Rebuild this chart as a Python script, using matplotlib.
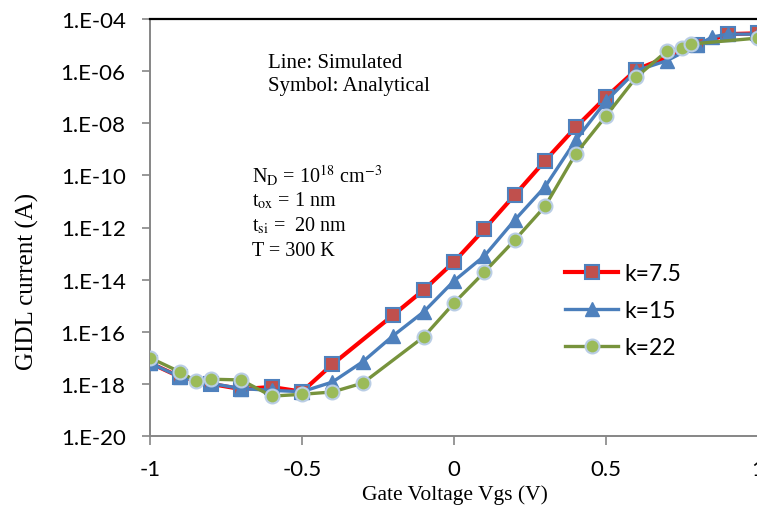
import numpy as np
import matplotlib
matplotlib.use("Agg")
import matplotlib.pyplot as plt
from matplotlib.ticker import FixedLocator, FuncFormatter, NullLocator

# ---- data (log10 of GIDL current) ----
x_k75 = [-1, -0.9, -0.8, -0.7, -0.6, -0.5, -0.4, -0.2, -0.1, 0, 0.1, 0.2, 0.3, 0.4, 0.5, 0.6, 0.8, 0.9, 1.0]
y_k75 = [-17.2, -17.74, -18.0, -18.2, -18.12, -18.3, -17.25, -15.36, -14.40, -13.32, -12.06, -10.75,
         -9.43, -8.16, -7.0, -5.94, -5.0, -4.58, -4.55]

x_k15 = [-1, -0.9, -0.8, -0.7, -0.6, -0.5, -0.4, -0.3, -0.2, -0.1, 0, 0.1, 0.2, 0.3, 0.4, 0.5, 0.6, 0.7,
         0.8, 0.85, 0.9, 1.0]
y_k15 = [-17.2, -17.74, -17.98, -18.18, -18.25, -18.3, -17.93, -17.15, -16.15, -15.24, -14.05, -13.09,
         -11.71, -10.43, -8.66, -7.15, -5.98, -5.6, -5.0, -4.69, -4.58, -4.58]

x_k22 = [-1, -0.9, -0.85, -0.8, -0.7, -0.6, -0.5, -0.4, -0.3, -0.1, 0, 0.1, 0.2, 0.3, 0.4, 0.5, 0.6,
         0.7, 0.75, 0.78, 1.0]
y_k22 = [-17.0, -17.55, -17.89, -17.82, -17.85, -18.47, -18.4, -18.31, -17.97, -16.20, -14.90, -13.71,
         -12.48, -11.18, -9.18, -7.72, -6.23, -5.23, -5.11, -4.96, -4.73]

labels = ["k=7.5", "k=15", "k=22"]
yticks_exp = [-4, -6, -8, -10, -12, -14, -16, -18, -20]
xticks = [-1, -0.5, 0, 0.5, 1]

plt.rcParams["mathtext.fontset"] = "stix"

W, H = 757, 510
fig = plt.figure(figsize=(W / 100, H / 100), dpi=100)
ax = fig.add_axes([150 / W, (H - 437) / H, (758 - 150) / W, (437 - 20) / H])

tick_font = "Lato"
serif = "Liberation Serif"

ax.plot(x_k75, 10.0 ** np.array(y_k75), color="#FF0000", lw=3.0, marker="s", ms=9.5,
        mfc="#C0504D", mec="#4F81BD", mew=1.5, label=labels[0], zorder=3)
ax.plot(x_k15, 10.0 ** np.array(y_k15), color="#4A7EBB", lw=2.4, marker="^", ms=10,
        mfc="#4F81BD", mec="#4F81BD", mew=1.0, label=labels[1], zorder=4)
ax.plot(x_k22, 10.0 ** np.array(y_k22), color="#77933C", lw=2.4, marker="o", ms=10,
        mfc="#9BBB59", mec="#B9CDE5", mew=1.5, label=labels[2], zorder=5)

ax.set_yscale("log")
ax.set_xlim(-1, 1)
ax.set_ylim(1e-20, 1e-4)
ax.yaxis.set_major_locator(FixedLocator([10.0 ** e for e in yticks_exp]))
ax.yaxis.set_minor_locator(NullLocator())
ax.yaxis.set_major_formatter(FuncFormatter(lambda v, p: "1.E-%02d" % round(-np.log10(v))))
ax.xaxis.set_major_locator(FixedLocator(xticks))
ax.xaxis.set_major_formatter(FuncFormatter(lambda v, p: ("%g" % v)))

for s in ["left", "bottom"]:
    ax.spines[s].set_color("#868686")
    ax.spines[s].set_linewidth(1.4)
ax.spines["right"].set_visible(False)
ax.spines["top"].set_color("black")
ax.spines["top"].set_linewidth(1.6)
ax.tick_params(axis="both", direction="out", width=1.2, color="#868686",
               labelsize=16, labelcolor="black")
ax.tick_params(axis="y", length=5.5, pad=12)
ax.tick_params(axis="x", length=6.5, pad=10)
for lab in ax.get_xticklabels() + ax.get_yticklabels():
    lab.set_fontfamily(tick_font)

fig.text(455 / W, 1 - 495 / H, "Gate Voltage Vgs (V)", family=serif, fontsize=15.5,
         ha="center", va="center")
fig.text(27 / W, 1 - 281 / H, "GIDL current (A)", family=serif, fontsize=18,
         ha="center", va="center", rotation=90)

fig.text(268 / W, 1 - 63 / H, "Line: Simulated", family=serif, fontsize=15, ha="left", va="center")
fig.text(268 / W, 1 - 87 / H, "Symbol: Analytical", family=serif, fontsize=15, ha="left", va="center")

params = [r"N$_\mathrm{D}$ = 10$^{18}$ cm$^{-3}$",
          r"t$_\mathrm{ox}$ = 1 nm",
          r"t$_\mathrm{si}$ =  20 nm",
          r"T = 300 K"]
for i, t in enumerate(params):
    fig.text(252 / W, 1 - (176 + i * 25) / H, t, family=serif, fontsize=14.5, ha="left", va="center")

leg = ax.legend(loc="upper left", bbox_to_anchor=(556 / W, 1 - 255 / H), bbox_transform=fig.transFigure,
                frameon=False, prop={"family": tick_font, "size": 16.5}, handlelength=2.3,
                labelspacing=0.7, handletextpad=0.3, borderaxespad=0)

fig.savefig("out.png", dpi=100)
